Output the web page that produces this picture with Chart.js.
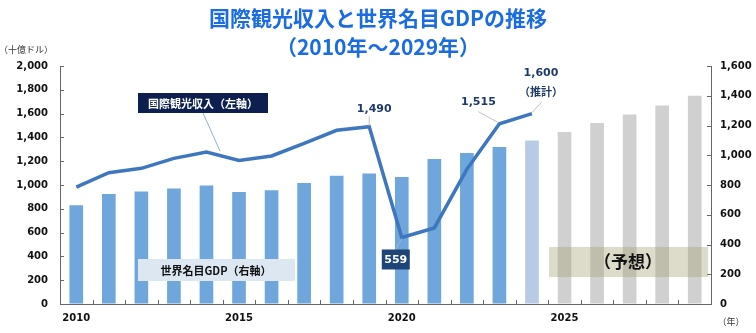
<!DOCTYPE html>
<html>
<head>
<meta charset="utf-8">
<script src="https://cdn.jsdelivr.net/npm/chart.js@4.4.1/dist/chart.umd.min.js"></script>
<style>
  body { margin: 0; background: #fff; }
</style>
</head>
<body>
<canvas id="myChart" width="756" height="333"></canvas>
<script>
// 年
const years = [2010, 2011, 2012, 2013, 2014, 2015, 2016, 2017, 2018, 2019,
               2020, 2021, 2022, 2023, 2024, 2025, 2026, 2027, 2028, 2029];
// 国際観光収入（十億ドル, 左軸）
const tourism = [983, 1103, 1140, 1224, 1277, 1207, 1244, 1350, 1460, 1490,
                 559, 639, 1132, 1515, 1600, null, null, null, null, null];
// 世界名目GDP（右軸）
const gdp = [664, 740, 756, 776, 796, 753, 765, 814, 863, 877,
             854, 975, 1015, 1055, 1100, 1156, 1216, 1274, 1335, 1400];
const leftTicks = [0, 2000, 200];
const rightTicks = [0, 1600, 200];

const FONT_NUM = 'DejaVu Sans';
const FONT_JP = '"Noto Sans CJK JP"';

function barColor(y) {
  if (y < 2024) return '#6fa7dd';
  if (y === 2024) return '#b7cbe5';
  return '#d0d0d0';
}

const overlay = {
  id: 'overlay',
  afterDraw(chart) {
    const ctx = chart.ctx;
    const x = chart.scales.x, yl = chart.scales.yL, yr = chart.scales.yR;
    const area = chart.chartArea;
    ctx.save();

    // タイトル
    ctx.fillStyle = '#1a6ce0';
    ctx.textAlign = 'center';
    ctx.textBaseline = 'middle';
    ctx.font = 'bold 21px ' + FONT_JP;
    ctx.fillText('国際観光収入と世界名目GDPの推移', 378, 18);
    ctx.fillText('（2010年～2029年）', 378, 47);

    ctx.fillStyle = '#333';
    ctx.font = '9px ' + FONT_JP;
    ctx.fillText('（十億ドル）', 26, 50);
    ctx.fillText('（年）', 731, 322);

    // 内向きの目盛り
    ctx.strokeStyle = '#666';
    ctx.lineWidth = 1;
    ctx.beginPath();
    yl.ticks.forEach(t => {
      const py = Math.round(yl.getPixelForValue(t.value)) + 0.5;
      ctx.moveTo(area.left, py); ctx.lineTo(area.left + 4, py);
    });
    yr.ticks.forEach(t => {
      const py = Math.round(yr.getPixelForValue(t.value)) + 0.5;
      ctx.moveTo(area.right, py); ctx.lineTo(area.right - 4, py);
    });
    const step = (area.right - area.left) / years.length;
    for (let i = 0; i <= years.length; i++) {
      const px = Math.round(area.left + i * step) + 0.5;
      ctx.moveTo(px, area.bottom); ctx.lineTo(px, area.bottom - 4);
    }
    ctx.stroke();

    // 凡例ボックス
    ctx.strokeStyle = '#8fb0d8';
    ctx.beginPath();
    ctx.moveTo(203, 113);
    ctx.lineTo(220, 151);
    ctx.stroke();
    ctx.fillStyle = '#0c1f4f';
    ctx.fillRect(138, 93, 130, 20);
    ctx.fillStyle = '#fff';
    ctx.font = 'bold 11px ' + FONT_JP;
    ctx.fillText('国際観光収入（左軸）', 203, 103.5);

    ctx.fillStyle = '#dde7f2';
    ctx.fillRect(138, 259, 157, 22);
    ctx.fillStyle = '#111';
    ctx.fillText('世界名目GDP（右軸）', 216, 270.5);

    // 予想ボックス
    ctx.fillStyle = 'rgba(160,155,105,0.36)';
    ctx.fillRect(549, 247, 159, 30);
    ctx.fillStyle = '#111';
    ctx.font = 'bold 17px ' + FONT_JP;
    ctx.fillText('（予想）', 628, 262);

    // データラベル
    const pt = i => ({ x: x.getPixelForValue(i), y: yl.getPixelForValue(tourism[i]) });
    ctx.strokeStyle = '#bfbfbf';
    ctx.lineWidth = 1;
    ctx.font = 'bold 11px ' + FONT_NUM;
    ctx.fillStyle = '#1f3a68';

    let p = pt(9);
    ctx.beginPath(); ctx.moveTo(p.x, p.y - 11); ctx.lineTo(p.x, p.y - 1); ctx.stroke();
    ctx.fillText('1,490', p.x + 5, p.y - 18);

    p = pt(13);
    ctx.beginPath(); ctx.moveTo(p.x - 21, p.y - 12); ctx.lineTo(p.x - 1, p.y - 1); ctx.stroke();
    ctx.fillText('1,515', p.x - 21, p.y - 22);

    p = pt(14);
    ctx.beginPath(); ctx.moveTo(p.x + 10, p.y - 12); ctx.lineTo(p.x, p.y - 1); ctx.stroke();
    ctx.fillText('1,600', p.x + 9, p.y - 40);
    ctx.font = 'bold 11px ' + FONT_JP;
    ctx.fillText('（推計）', p.x + 9, p.y - 22);

    p = pt(10);
    ctx.strokeStyle = '#9db8d8';
    ctx.beginPath(); ctx.moveTo(p.x - 6, p.y + 12); ctx.lineTo(p.x, p.y + 1); ctx.stroke();
    ctx.fillStyle = '#1f4478';
    ctx.fillRect(p.x - 20, p.y + 12, 28, 20);
    ctx.fillStyle = '#fff';
    ctx.font = 'bold 11px ' + FONT_NUM;
    ctx.fillText('559', p.x - 6, p.y + 22.5);

    ctx.restore();
  }
};

new Chart(document.getElementById('myChart'), {
  data: {
    labels: years,
    datasets: [
      {
        type: 'line',
        label: '国際観光収入（左軸）',
        data: tourism,
        yAxisID: 'yL',
        borderColor: '#3f77bf',
        borderWidth: 3.5,
        pointRadius: 0,
        tension: 0,
        order: 0
      },
      {
        type: 'bar',
        label: '世界名目GDP（右軸）',
        data: gdp,
        yAxisID: 'yR',
        backgroundColor: years.map(barColor),
        categoryPercentage: 1,
        barPercentage: 0.42,
        order: 1
      }
    ]
  },
  options: {
    responsive: false,
    animation: false,
    layout: { padding: { top: 66, left: 0, right: 0, bottom: 0 } },
    plugins: { legend: { display: false }, tooltip: { enabled: false } },
    scales: {
      x: {
        offset: true,
        grid: { display: true, drawOnChartArea: false, drawTicks: false, offset: true },
        border: { display: true, color: '#666' },
        ticks: {
          autoSkip: false, maxRotation: 0, padding: 8, color: '#111',
          font: { family: FONT_NUM, size: 10, weight: 'bold' },
          callback: function(v, i) { return years[i] % 5 === 0 ? String(years[i]) : ''; }
        },
        afterFit: s => { s.height = 29; }
      },
      yL: {
        position: 'left',
        min: leftTicks[0], max: leftTicks[1],
        grid: { display: true, drawOnChartArea: false, drawTicks: false },
        border: { display: true, color: '#666' },
        ticks: {
          stepSize: leftTicks[2], padding: 12, color: '#111',
          font: { family: FONT_NUM, size: 10, weight: 'bold' },
          callback: v => v.toLocaleString('en-US')
        },
        afterFit: s => { s.width = 60; }
      },
      yR: {
        position: 'right',
        min: rightTicks[0], max: rightTicks[1],
        grid: { display: true, drawOnChartArea: false, drawTicks: false },
        border: { display: true, color: '#666' },
        ticks: {
          stepSize: rightTicks[2], padding: 9, color: '#111',
          font: { family: FONT_NUM, size: 10, weight: 'bold' },
          callback: v => v.toLocaleString('en-US')
        },
        afterFit: s => { s.width = 45; }
      }
    }
  },
  plugins: [overlay]
});
</script>
</body>
</html>
